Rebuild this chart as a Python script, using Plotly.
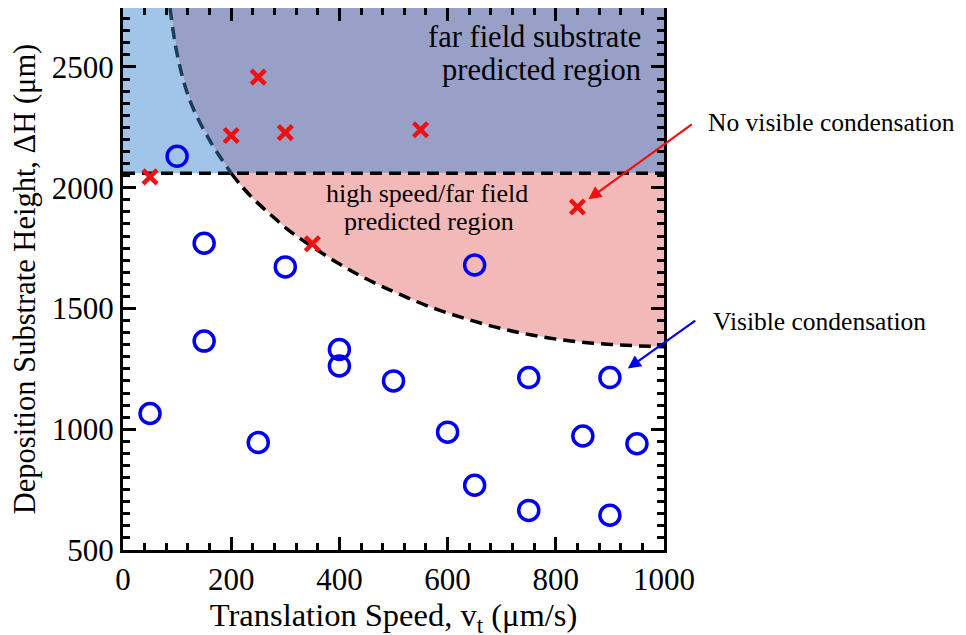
import plotly.graph_objects as go

# ---- data ----
vis_x = [50, 100, 150, 150, 250, 300, 400, 400, 500, 600, 650, 650, 750, 750, 850, 900, 900, 950]
vis_y = [1065, 2130, 1770, 1365, 945, 1672, 1330, 1262, 1200, 988, 1680, 768, 1214, 664, 972, 1214, 644, 940]

novis_x = [50, 200, 250, 300, 350, 550, 840]
novis_y = [2045, 2216, 2458, 2228, 1768, 2240, 1920]

# predicted boundary curve
curve_x = [87, 100, 124, 161, 200, 216, 240, 272, 303, 331, 364, 401, 438, 475, 512,
           573, 636, 697, 758, 821, 882, 943, 1000]
curve_y = [2744, 2554, 2359, 2193, 2060, 2015, 1956, 1890, 1830, 1784, 1735, 1683, 1636,
           1595, 1558, 1502, 1456, 1418, 1389, 1367, 1354, 1346, 1342]

far_field_h = 2060
x_range = [0, 1000]
y_range = [500, 2744]
x_ticks = [0, 200, 400, 600, 800, 1000]
y_ticks = [500, 1000, 1500, 2000, 2500]

# ---- split curve at the far-field line ----
i_split = curve_y.index(far_field_h)
up_x, up_y = curve_x[:i_split + 1], curve_y[:i_split + 1]
lo_x, lo_y = curve_x[i_split:], curve_y[i_split:]

fig = go.Figure()

fig.add_trace(go.Scatter(
    x=[x_range[0], x_range[0]] + up_x,
    y=[far_field_h, y_range[1]] + up_y,
    fill="toself", fillcolor="#a0c5e8", line=dict(width=0), mode="lines",
    hoverinfo="skip", showlegend=False))
fig.add_trace(go.Scatter(
    x=up_x + [x_range[1], x_range[1]],
    y=up_y + [far_field_h, y_range[1]],
    fill="toself", fillcolor="#98a0c8", line=dict(width=0), mode="lines",
    hoverinfo="skip", showlegend=False))
fig.add_trace(go.Scatter(
    x=lo_x + [x_range[1]],
    y=lo_y + [far_field_h],
    fill="toself", fillcolor="#f3b9b9", line=dict(width=0), mode="lines",
    hoverinfo="skip", showlegend=False))

dash = "12px,7px"
fig.add_trace(go.Scatter(x=x_range, y=[far_field_h, far_field_h], mode="lines",
                         line=dict(color="black", width=3.5, dash=dash),
                         hoverinfo="skip", showlegend=False))
fig.add_trace(go.Scatter(x=up_x, y=up_y, mode="lines",
                         line=dict(color="#1d3d5c", width=3.5, dash=dash, shape="spline"),
                         hoverinfo="skip", showlegend=False))
fig.add_trace(go.Scatter(x=lo_x, y=lo_y, mode="lines",
                         line=dict(color="black", width=3.5, dash=dash, shape="spline"),
                         hoverinfo="skip", showlegend=False))

fig.add_trace(go.Scatter(x=vis_x, y=vis_y, mode="markers", name="Visible condensation",
                         marker=dict(symbol="circle-open", size=20, color="#0000ee",
                                     line=dict(width=3.5, color="#0000ee")),
                         showlegend=False))
fig.add_trace(go.Scatter(x=novis_x, y=novis_y, mode="markers", name="No visible condensation",
                         marker=dict(symbol="x-thin", size=14, color="#ee1111",
                                     line=dict(width=4.5, color="#ee1111")),
                         showlegend=False))

serif = "Liberation Serif"
axis_common = dict(
    showgrid=False, zeroline=False, showline=True, linecolor="black", linewidth=3,
    mirror="allticks", ticks="inside", ticklen=13, tickwidth=3, tickcolor="black",
    tickfont=dict(family=serif, size=31, color="black"), automargin=False,
)
fig.update_xaxes(range=x_range, tickvals=x_ticks, **axis_common,
                 minor=dict(dtick=40, ticks="inside", ticklen=7, tickwidth=2.5, tickcolor="black"),
                 title=dict(text="Translation Speed, v<sub>t</sub> (μm/s)",
                            font=dict(family=serif, size=32.5, color="black"), standoff=0))
fig.update_yaxes(range=y_range, tickvals=y_ticks, **axis_common,
                 minor=dict(dtick=50, ticks="inside", ticklen=7, tickwidth=2.5, tickcolor="black"),
                 title=dict(text="Deposition Substrate Height, ΔH (μm)",
                            font=dict(family=serif, size=30.5, color="black"), standoff=12))

def label(text, x, y, anchor, size):
    fig.add_annotation(x=x, y=y, xref="paper", yref="paper", xanchor=anchor, yanchor="middle",
                       text=text, showarrow=False,
                       font=dict(family=serif, size=size, color="black"))

label("far field substrate", 0.961, 0.946, "right", 30.5)
label("predicted region", 0.961, 0.885, "right", 30.5)
label("high speed/far field", 0.562, 0.657, "center", 26)
label("predicted region", 0.566, 0.607, "center", 26)
label("No visible condensation", 1.078, 0.789, "left", 25.5)
label("Visible condensation", 1.087, 0.422, "left", 25.5)

fig.add_annotation(x=860, y=1952, xref="x", yref="y", ax=105, ay=-76,
                   text="", showarrow=True, arrowhead=2, arrowsize=1.2, arrowwidth=2.2,
                   arrowcolor="#ee1111", standoff=0)
fig.add_annotation(x=933, y=1251, xref="x", yref="y", ax=69, ay=-49,
                   text="", showarrow=True, arrowhead=2, arrowsize=1.2, arrowwidth=2.2,
                   arrowcolor="#0000ee", standoff=0)

# page body adds an 8px offset, so margins are shifted by 8px
fig.update_layout(
    width=966, height=635,
    margin=dict(l=115, r=310, t=0, b=93),
    paper_bgcolor="white", plot_bgcolor="white",
    font=dict(family=serif, color="black"),
)

fig.write_html("out.html")
